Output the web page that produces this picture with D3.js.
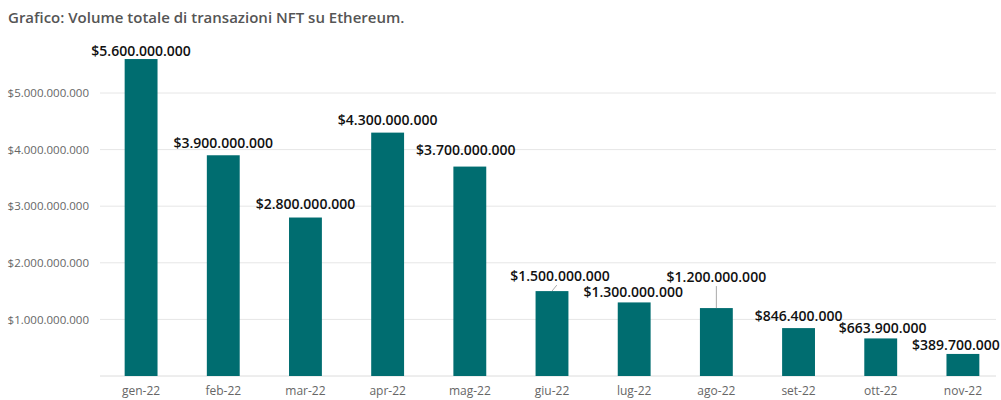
<!DOCTYPE html>
<html><head><meta charset="utf-8">
<script src="https://cdn.jsdelivr.net/npm/d3@7"></script>
<style>body{margin:0;background:#fff;}svg{display:block;font-family:"Open Sans",sans-serif;}</style>
</head><body><svg id="c" width="1001" height="400"></svg>
<script>
const months = ["gen-22","feb-22","mar-22","apr-22","mag-22","giu-22","lug-22","ago-22","set-22","ott-22","nov-22"];
const volumes = [5600000000,3900000000,2800000000,4300000000,3700000000,1500000000,1300000000,1200000000,846400000,663900000,389700000];
const yTicks = [1000000000,2000000000,3000000000,4000000000,5000000000];
// label placement tweaks (dx, lift above bar top)
const labelDx = [0,0,0,0,-4,8,-1,0,0,2,-7];
const labelLift = [3,7,9,8,12,10,5,26,7,5,4];
const leader = [false,false,false,false,false,true,false,true,false,false,false];

const svg = d3.select("#c");
const x = d3.scaleBand().domain(months).range([100,1004]).paddingInner(0.6).paddingOuter(0.3);
const y = d3.scaleLinear().domain([0,5000000000]).range([376,93]);
const fmt = v => "$" + d3.format(",")(v).replace(/,/g,".");

svg.append("text").attr("x",8).attr("y",23).attr("fill","#555").attr("font-size",15).attr("font-weight",600)
  .text("Grafico: Volume totale di transazioni NFT su Ethereum.");

const grid = svg.append("g");
grid.selectAll("line").data(yTicks).join("line")
  .attr("x1",100).attr("x2",996).attr("y1",d=>y(d)).attr("y2",d=>y(d))
  .attr("stroke","#e6e6e6").attr("stroke-width",1);
svg.append("line").attr("x1",100).attr("x2",996).attr("y1",y(0)).attr("y2",y(0)).attr("stroke","#dcdcdc");

const yAxis = d3.axisLeft(y).tickValues(yTicks).tickFormat(fmt).tickSize(0).tickPadding(0);
svg.append("g").attr("transform","translate(89,0)").call(yAxis)
  .call(g=>g.select(".domain").remove())
  .selectAll("text").attr("font-size",11.5).attr("fill","#666").attr("font-family","Open Sans");

const xAxis = d3.axisBottom(x).tickSize(0).tickPadding(0);
svg.append("g").attr("transform","translate(0,386)").call(xAxis)
  .call(g=>g.select(".domain").remove())
  .selectAll("text").attr("font-size",12).attr("fill","#666").attr("font-family","Open Sans");

svg.append("g").selectAll("rect").data(volumes).join("rect")
  .attr("x",(d,i)=>x(months[i])).attr("width",x.bandwidth())
  .attr("y",d=>y(d)).attr("height",d=>y(0)-y(d)).attr("fill","#006d70");

const lg = svg.append("g");
volumes.forEach((v,i)=>{
  const cx = x(months[i]) + x.bandwidth()/2;
  const top = y(v);
  const ly = top - labelLift[i];
  if (leader[i]) {
    lg.append("line").attr("x1",cx+labelDx[i]*0.6).attr("y1",ly+4).attr("x2",cx).attr("y2",top)
      .attr("stroke","#aaa").attr("stroke-width",1);
  }
  lg.append("text").attr("x",cx+labelDx[i]).attr("y",ly).attr("text-anchor","middle")
    .attr("font-size",14).attr("font-weight",600).attr("fill","#111").text(fmt(v));
});
</script></body></html>
